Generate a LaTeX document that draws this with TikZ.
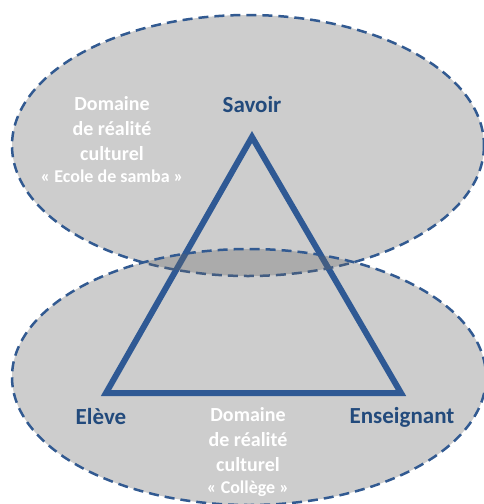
\documentclass[tikz,border=0pt]{standalone}
\usepackage{fontspec}
\setmainfont{Carlito}
\definecolor{tri}{RGB}{20,84,172}
\definecolor{dashc}{RGB}{50,90,145}
\definecolor{lbl}{RGB}{34,74,124}
\definecolor{fillg}{RGB}{102,102,102}
\tikzset{
  culturezone/.style={fill=fillg, fill opacity=0.33, draw=dashc, draw opacity=1, line width=2.5pt, dash pattern=on 10pt off 6pt},
  corner/.style={text=lbl, font=\fontsize{23}{26}\selectfont\bfseries, inner sep=0pt},
  whitetxt/.style={text=white, font=\fontsize{20}{25}\selectfont\bfseries, align=center, inner sep=0pt},
  tristroke/.style={draw=tri, line width=6pt, line join=miter}
}
\begin{document}
\begin{tikzpicture}[x=1pt,y=-1pt]
\useasboundingbox (0,0) rectangle (484,504);
\coordinate (A) at (252,137);
\coordinate (B) at (106,393);
\coordinate (C) at (401,393);
\draw[tristroke] (A) -- (B) -- (C) -- cycle;
\path[culturezone] (248,145.5) ellipse [x radius=236, y radius=130.5];
\path[culturezone] (249,377) ellipse [x radius=237, y radius=128];
\node[corner] (savoir) at (252,105) {Savoir};
\node[corner] (eleve) at (101,417) {Elève};
\node[corner] (ens) at (402,417) {Enseignant};
\node[whitetxt] (top) at (112,140) {Domaine\\de réalité\\culturel\\[-3pt]{\fontsize{18}{20}\selectfont « Ecole de samba »}};
\node[whitetxt] (bot) at (248,452) {Domaine\\de réalité\\culturel\\[-3pt]{\fontsize{18}{20}\selectfont « Collège »}};
\end{tikzpicture}
\end{document}
